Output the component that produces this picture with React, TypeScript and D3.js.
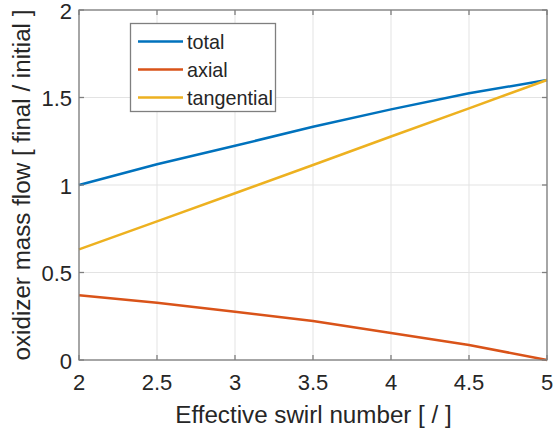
import React from "react";
import * as d3 from "d3";

// Effective swirl number samples
const swirl = [2, 2.5, 3, 3.5, 4, 4.5, 5];
// Oxidizer mass flow ratios (final / initial)
const total = [1.0, 1.119, 1.224, 1.333, 1.432, 1.524, 1.6];
const axial = [0.37, 0.327, 0.276, 0.223, 0.154, 0.086, 0.0];
const tangential = [0.632, 0.792, 0.953, 1.114, 1.277, 1.438, 1.6];

const seriesNames = ["total", "axial", "tangential"];
const seriesColors = ["#0072BD", "#D95319", "#EDB120"];

const xTicks = [2, 2.5, 3, 3.5, 4, 4.5, 5];
const yTicks = [0, 0.5, 1, 1.5, 2];

const W = 554;
const H = 432;
const M = { left: 79, right: 547, top: 10, bottom: 360 };
const FONT = "'Liberation Sans', Arial, Helvetica, sans-serif";
const TEXT = "#262626";
const AXIS = "#7f7f7f";
const TICK_FS = 22;
const LABEL_FS = 24.2;
const LEGEND_FS = 19.8;

export default function App() {
  const x = d3.scaleLinear().domain([2, 5]).range([M.left, M.right]);
  const y = d3.scaleLinear().domain([0, 2]).range([M.bottom, M.top]);
  const line = d3
    .line<[number, number]>()
    .x((d) => x(d[0]))
    .y((d) => y(d[1]));
  const allSeries = [total, axial, tangential];
  const fmt = (v: number) => String(v);
  const tick = 5;

  return (
    <svg
      width={W}
      height={H}
      style={{ position: "absolute", left: 0, top: 0, background: "#fff" }}
      fontFamily={FONT}
    >
      <rect x={0} y={0} width={W} height={H} fill="#fff" />
      {/* grid */}
      {xTicks.map((t) => (
        <line key={"gx" + t} x1={x(t)} x2={x(t)} y1={M.top} y2={M.bottom} stroke="#e3e3e3" strokeWidth={1} />
      ))}
      {yTicks.map((t) => (
        <line key={"gy" + t} x1={M.left} x2={M.right} y1={y(t)} y2={y(t)} stroke="#e3e3e3" strokeWidth={1} />
      ))}
      {/* data lines */}
      {allSeries.map((vals, i) => (
        <path
          key={seriesNames[i]}
          d={line(swirl.map((s, j) => [s, vals[j]] as [number, number])) || ""}
          fill="none"
          stroke={seriesColors[i]}
          strokeWidth={2.5}
        />
      ))}
      {/* axes box */}
      <rect
        x={M.left}
        y={M.top}
        width={M.right - M.left}
        height={M.bottom - M.top}
        fill="none"
        stroke={AXIS}
        strokeWidth={1.3}
      />
      {/* ticks */}
      {xTicks.map((t) => (
        <g key={"tx" + t}>
          <line x1={x(t)} x2={x(t)} y1={M.bottom} y2={M.bottom - tick} stroke={AXIS} strokeWidth={1.3} />
          <line x1={x(t)} x2={x(t)} y1={M.top} y2={M.top + tick} stroke={AXIS} strokeWidth={1.3} />
          <text x={x(t)} y={390} textAnchor="middle" fontSize={TICK_FS} fill={TEXT}>
            {fmt(t)}
          </text>
        </g>
      ))}
      {yTicks.map((t) => (
        <g key={"ty" + t}>
          <line x1={M.left} x2={M.left + tick} y1={y(t)} y2={y(t)} stroke={AXIS} strokeWidth={1.3} />
          <line x1={M.right} x2={M.right - tick} y1={y(t)} y2={y(t)} stroke={AXIS} strokeWidth={1.3} />
          <text x={72} y={y(t) + 8.5} textAnchor="end" fontSize={TICK_FS} fill={TEXT}>
            {fmt(t)}
          </text>
        </g>
      ))}
      {/* axis labels */}
      <text x={(M.left + M.right) / 2 + 0.5} y={423} textAnchor="middle" fontSize={LABEL_FS} fill={TEXT}>
        Effective swirl number [ / ]
      </text>
      <text
        transform={`translate(30, ${(M.top + M.bottom) / 2}) rotate(-90)`}
        textAnchor="middle"
        fontSize={LABEL_FS}
        fill={TEXT}
      >
        oxidizer mass flow [ final / initial ]
      </text>
      {/* legend */}
      <g>
        <rect x={130.5} y={23.5} width={145} height={88} fill="#fff" stroke={AXIS} strokeWidth={1.3} />
        {seriesNames.map((n, i) => (
          <g key={"lg" + n}>
            <line x1={138} x2={183} y1={41.5 + i * 28} y2={41.5 + i * 28} stroke={seriesColors[i]} strokeWidth={2.5} />
            <text x={187} y={41.5 + i * 28 + 7} fontSize={LEGEND_FS} fill={TEXT}>
              {n}
            </text>
          </g>
        ))}
      </g>
    </svg>
  );
}
